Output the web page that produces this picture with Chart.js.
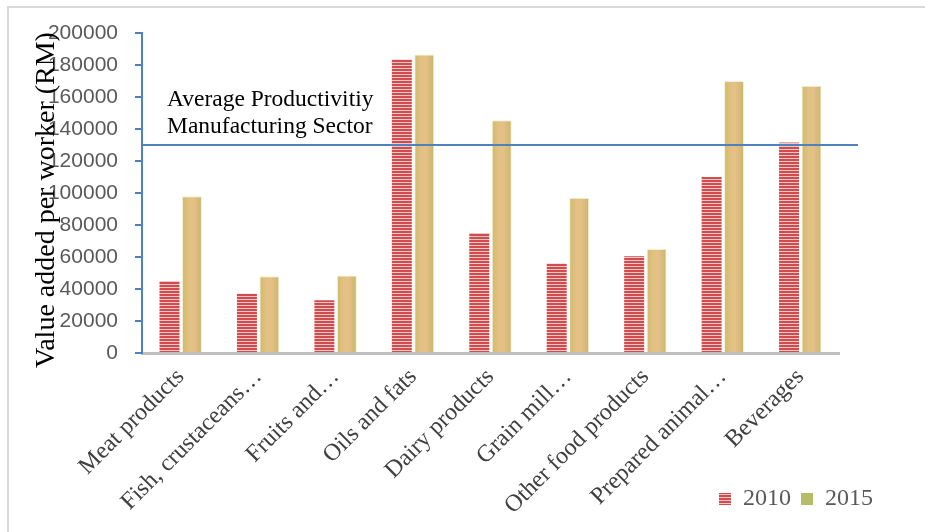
<!DOCTYPE html>
<html>
<head>
<meta charset="utf-8">
<script src="https://cdn.jsdelivr.net/npm/chart.js@4/dist/chart.umd.min.js"></script>
<style>
  html, body { margin: 0; padding: 0; background: #ffffff; }
  #wrap { position: relative; width: 925px; height: 532px; }
</style>
</head>
<body>
<div id="wrap"><canvas id="chart" width="925" height="532"></canvas></div>
<script>
// Value added per worker in food manufacturing sub-sectors (RM)
const categories = [
  'Meat products',
  'Fish, crustaceans\u2026',
  'Fruits and\u2026',
  'Oils and fats',
  'Dairy products',
  'Grain mill\u2026',
  'Other food products',
  'Prepared animal\u2026',
  'Beverages'
];
const values2010 = [45000, 37000, 33000, 183500, 75000, 56000, 60500, 110000, 131500];
const values2015 = [98000, 48000, 48500, 186500, 145500, 97000, 65000, 170000, 167000];
const seriesNames = ['2010', '2015'];

// Manufacturing-sector average, drawn as a reference line
const averageProductivity = 130000;
const averageLabel = ['Average Productivitiy', 'Manufacturing Sector'];

const yTicks = { min: 0, max: 200000, step: 20000 };
const yTitle = 'Value added per worker (RM)';

const SERIF = '"Liberation Serif", "Times New Roman", serif';
const SANS = '"Liberation Sans", Arial, sans-serif';
const AXIS_BLUE = '#4f81bd';
const CAT_PCT = 0.58;
const BAR_PCT = 0.89;

// Red bars with horizontal stripes
function stripePattern() {
  const c = document.createElement('canvas');
  c.width = 4; c.height = 3;
  const g = c.getContext('2d');
  g.fillStyle = '#d04c4f'; g.fillRect(0, 0, 4, 2);
  g.fillStyle = '#f3c6c6'; g.fillRect(0, 2, 4, 1);
  return g.createPattern(c, 'repeat');
}
const redStripes = stripePattern();

// Gold bars shaded across their width
function goldFill(ctx) {
  const chart = ctx.chart;
  if (!chart.chartArea || ctx.type !== 'data') return '#dfc07f';
  const xs = chart.scales.x;
  const catW = xs.width / categories.length;
  const slot = catW * CAT_PCT / 2;
  const cx = xs.getPixelForValue(ctx.dataIndex) + slot / 2;
  const w = slot * BAR_PCT;
  const g = chart.ctx.createLinearGradient(cx - w / 2, 0, cx + w / 2, 0);
  g.addColorStop(0, '#cdbb6c');
  g.addColorStop(0.35, '#e2c183');
  g.addColorStop(0.6, '#e5c087');
  g.addColorStop(1, '#c8b66a');
  return g;
}

const decorations = {
  id: 'decorations',
  beforeDraw(chart) {
    const c = chart.ctx;
    c.save();
    c.strokeStyle = '#d9d9d9';
    c.lineWidth = 2;
    c.strokeRect(8, 7, 1000, 1000);
    c.restore();
  },
  afterLayout(chart) {
    // legend sits to the right, tucked beside the slanted category labels
    const lg = chart.legend;
    if (lg) {
      const dx = 883 - lg.right;
      lg.left += dx; lg.right += dx;
      lg.top -= 9; lg.bottom -= 9;
    }
    // let the slanted labels run down to the canvas edge
    const xs = chart.scales.x;
    xs.bottom = chart.height;
    xs.height = xs.bottom - xs.top;
  },
  afterDatasetsDraw(chart) {
    const c = chart.ctx;
    const area = chart.chartArea;
    const y = chart.scales.y.getPixelForValue(averageProductivity);
    c.save();
    c.strokeStyle = AXIS_BLUE;
    c.lineWidth = 2;
    c.beginPath();
    c.moveTo(area.left, y);
    c.lineTo(area.right + 19, y);
    c.stroke();
    c.fillStyle = '#000000';
    c.font = '23.5px ' + SERIF;
    c.textAlign = 'left';
    c.textBaseline = 'alphabetic';
    c.fillText(averageLabel[0], 167, 106);
    c.fillText(averageLabel[1], 167, 133);
    c.restore();
  },
  afterDraw(chart) {
    const c = chart.ctx;
    c.save();
    c.translate(47, 200);
    c.rotate(-Math.PI / 2);
    c.fillStyle = '#000000';
    c.font = '28px ' + SERIF;
    c.textAlign = 'center';
    c.textBaseline = 'middle';
    c.fillText(yTitle, 0, 0);
    c.restore();
  }
};

new Chart(document.getElementById('chart'), {
  type: 'bar',
  data: {
    labels: categories,
    datasets: [
      {
        label: seriesNames[0],
        data: values2010,
        backgroundColor: redStripes,
        borderWidth: 0,
        categoryPercentage: CAT_PCT,
        barPercentage: BAR_PCT
      },
      {
        label: seriesNames[1],
        data: values2015,
        backgroundColor: goldFill,
        borderColor: 'rgba(245,238,205,0.9)',
        borderWidth: 1,
        categoryPercentage: CAT_PCT,
        barPercentage: BAR_PCT
      }
    ]
  },
  options: {
    responsive: false,
    animation: false,
    devicePixelRatio: 1,
    layout: { padding: { left: 0, top: 33, right: 86, bottom: 2 } },
    plugins: {
      title: { display: false },
      tooltip: { enabled: false },
      legend: {
        display: true,
        position: 'bottom',
        align: 'end',
        labels: {
          boxWidth: 12,
          boxHeight: 12,
          padding: 10,
          color: '#595959',
          font: { family: SERIF, size: 24 },
          generateLabels(chart) {
            const items = Chart.defaults.plugins.legend.labels.generateLabels(chart);
            items.forEach((it, i) => {
              it.lineWidth = 0;
              it.strokeStyle = 'rgba(0,0,0,0)';
              if (i === 1) it.fillStyle = '#b5bd68';
            });
            return items;
          }
        }
      }
    },
    scales: {
      x: {
        offset: true,
        grid: { display: false, drawTicks: false },
        border: { display: true, color: '#bfbfbf', width: 3 },
        ticks: {
          color: '#404040',
          font: { family: SERIF, size: 24 },
          minRotation: 45,
          maxRotation: 45,
          padding: 10,
          autoSkip: false
        },
        afterFit(scale) { scale.height = 133; }
      },
      y: {
        min: yTicks.min,
        max: yTicks.max,
        grid: {
          display: true,
          drawOnChartArea: false,
          drawTicks: true,
          tickLength: 7,
          color: AXIS_BLUE,
          lineWidth: 2
        },
        border: { display: true, color: AXIS_BLUE, width: 2 },
        ticks: {
          stepSize: yTicks.step,
          color: '#595959',
          font: { family: SANS, size: 21 },
          padding: 17,
          callback: v => String(v)
        },
        afterFit(scale) { scale.width = 142; }
      }
    }
  },
  plugins: [decorations]
});
</script>
</body>
</html>
